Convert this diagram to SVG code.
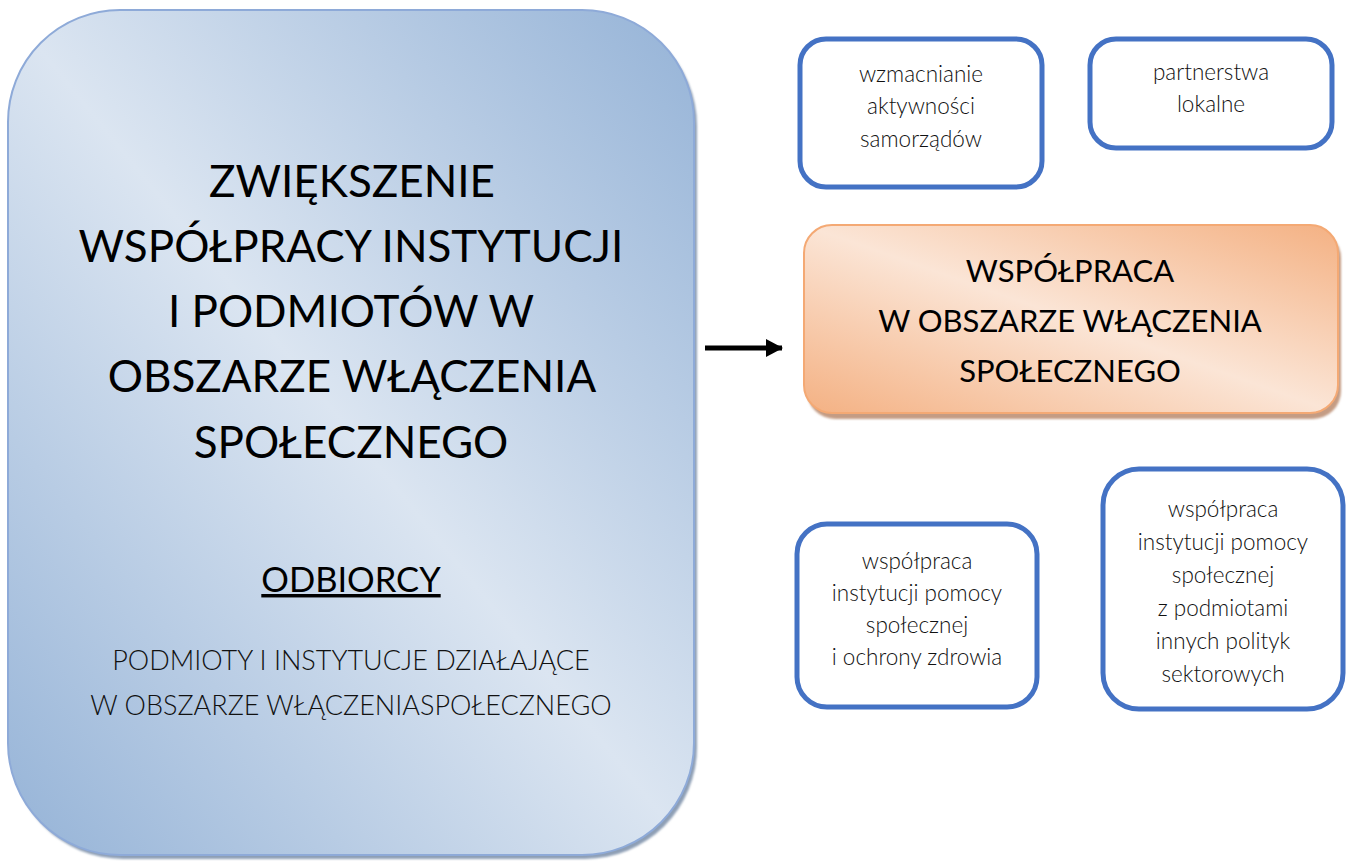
<svg xmlns="http://www.w3.org/2000/svg" width="1350" height="861" viewBox="0 0 1350 861">
  <defs>
    <linearGradient id="gBlue" x1="0" y1="1" x2="1" y2="0">
      <stop offset="0" stop-color="#95b3d7"/>
      <stop offset="0.5" stop-color="#dbe5f1"/>
      <stop offset="1" stop-color="#95b3d7"/>
    </linearGradient>
    <linearGradient id="gOrange" x1="0" y1="1" x2="1" y2="0">
      <stop offset="0" stop-color="#f4b183"/>
      <stop offset="0.5" stop-color="#fbe5d6"/>
      <stop offset="1" stop-color="#f4b183"/>
    </linearGradient>
    <filter id="blur" x="-5%" y="-5%" width="110%" height="110%">
      <feGaussianBlur stdDeviation="0.8"/>
    </filter>
    <marker id="arrow" viewBox="0 0 17 18" refX="16" refY="9" markerWidth="17" markerHeight="18" orient="auto" markerUnits="userSpaceOnUse">
      <path d="M0,0 L17,9 L0,18 Z" fill="#000"/>
    </marker>
  </defs>
  <style>
    .t { font-family: Lato, "Open Sans", "Liberation Sans", sans-serif; fill: #000; text-anchor: middle; }
    .big { font-size: 44px; font-weight: 400; }
    .mid { font-size: 31px; font-weight: 400; }
    .sub { font-size: 27px; font-weight: 300; fill: #111; }
    .small { font-size: 22.5px; font-weight: 300; fill: #111; }
    .sbox { fill: #ffffff; stroke: #4472c4; stroke-width: 5; }
  </style>
  <rect width="1350" height="861" fill="#ffffff"/>

  <g id="main-box">
    <rect x="11" y="14" width="686" height="845" rx="112" ry="112" fill="#8e9fb5" filter="url(#blur)"/>
    <rect x="8" y="10" width="686" height="845" rx="112" ry="112" fill="url(#gBlue)" stroke="#8eaad8" stroke-width="2"/>
    <text class="t big" x="352" y="197">ZWIĘKSZENIE</text>
    <text class="t big" x="351" y="262">WSPÓŁPRACY INSTYTUCJI</text>
    <text class="t big" x="351" y="327">I PODMIOTÓW W</text>
    <text class="t big" x="352" y="392">OBSZARZE WŁĄCZENIA</text>
    <text class="t big" x="351" y="458">SPOŁECZNEGO</text>
    <text class="t" x="351" y="592" font-size="34.5px" text-decoration="underline">ODBIORCY</text>
    <text class="t sub" x="351" y="670">PODMIOTY I INSTYTUCJE DZIAŁAJĄCE</text>
    <text class="t sub" x="351" y="715">W OBSZARZE WŁĄCZENIASPOŁECZNEGO</text>
  </g>

  <g id="connectors">
    <line x1="705" y1="348" x2="782" y2="348" stroke="#000" stroke-width="5" marker-end="url(#arrow)"/>
  </g>

  <g id="center-box">
    <rect x="807" y="230" width="534" height="189" rx="28" ry="28" fill="#c49c84" filter="url(#blur)"/>
    <rect x="804" y="225" width="534" height="188" rx="28" ry="28" fill="url(#gOrange)" stroke="#f4a974" stroke-width="2"/>
    <text class="t mid" x="1070" y="282">WSPÓŁPRACA</text>
    <text class="t mid" x="1070" y="332">W OBSZARZE WŁĄCZENIA</text>
    <text class="t mid" x="1070" y="382">SPOŁECZNEGO</text>
  </g>

  <g id="box-samorzady">
    <rect class="sbox" x="800" y="39" width="242" height="148" rx="26" ry="26"/>
    <text class="t small" x="921" y="82">wzmacnianie</text>
    <text class="t small" x="921" y="114">aktywności</text>
    <text class="t small" x="921" y="147">samorządów</text>
  </g>

  <g id="box-partnerstwa">
    <rect class="sbox" x="1090" y="39" width="242" height="109" rx="26" ry="26"/>
    <text class="t small" x="1211" y="80">partnerstwa</text>
    <text class="t small" x="1211" y="112">lokalne</text>
  </g>

  <g id="box-zdrowie">
    <rect class="sbox" x="797" y="524" width="240" height="183" rx="30" ry="30"/>
    <text class="t small" x="917" y="569">współpraca</text>
    <text class="t small" x="917" y="601">instytucji pomocy</text>
    <text class="t small" x="917" y="633">społecznej</text>
    <text class="t small" x="917" y="665">i ochrony zdrowia</text>
  </g>

  <g id="box-polityki">
    <rect class="sbox" x="1103" y="469" width="240" height="240" rx="36" ry="36"/>
    <text class="t small" x="1223" y="517">współpraca</text>
    <text class="t small" x="1223" y="550">instytucji pomocy</text>
    <text class="t small" x="1223" y="583">społecznej</text>
    <text class="t small" x="1223" y="616">z podmiotami</text>
    <text class="t small" x="1223" y="649">innych polityk</text>
    <text class="t small" x="1223" y="682">sektorowych</text>
  </g>
</svg>
